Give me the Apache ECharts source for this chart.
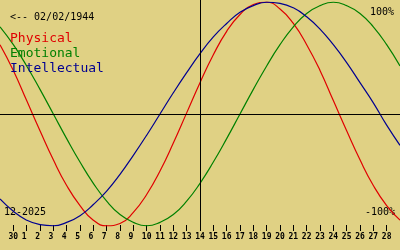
<!DOCTYPE html>
<html><head><meta charset="utf-8">
<script src="https://cdn.jsdelivr.net/npm/echarts@6/dist/echarts.min.js"></script>
<style>html,body{margin:0;padding:0;background:#E0D184;}#c{width:400px;height:250px;}</style>
</head><body><div id="c"></div>
<script>
// x index: -1 .. 29 ; tick labels for index 0..28
const dayLabels = ['30','1','2','3','4','5','6','7','8','9','10','11','12','13','14','15','16','17','18','19','20','21','22','23','24','25','26','27','28'];
const dayIndex = [-1,0,1,2,3,4,5,6,7,8,9,10,11,12,13,14,15,16,17,18,19,20,21,22,23,24,25,26,27,28,29];
const physical = [0.62,0.39,0.12,-0.15,-0.41,-0.64,-0.82,-0.95,-1.00,-0.98,-0.88,-0.72,-0.51,-0.26,0.01,0.28,0.53,0.74,0.89,0.98,1.00,0.94,0.81,0.62,0.39,0.12,-0.15,-0.41,-0.64,-0.82,-0.95];
const emotional = [0.78,0.62,0.43,0.22,0.00,-0.22,-0.43,-0.62,-0.78,-0.90,-0.97,-1.00,-0.97,-0.90,-0.78,-0.62,-0.43,-0.22,0.00,0.22,0.43,0.62,0.78,0.90,0.97,1.00,0.97,0.90,0.78,0.62,0.43];
const intellectual = [-0.76,-0.87,-0.95,-0.99,-1.00,-0.97,-0.91,-0.81,-0.69,-0.54,-0.37,-0.19,0.00,0.19,0.37,0.54,0.69,0.81,0.91,0.97,1.00,0.99,0.95,0.87,0.76,0.62,0.46,0.28,0.10,-0.10,-0.28];
const todayIndex = 14;
const seriesNames = ['Physical','Emotional','Intellectual'];
const seriesColors = ['#E00000','#008000','#000090'];
const birthText = '<-- 02/02/1944';
const monthText = '12-2025';
const topLabel = '100%';
const bottomLabel = '-100%';

const mono = '"DejaVu Sans Mono", "Liberation Mono", monospace';
const tickIdx = dayLabels.map((_, i) => i);
const values = [physical, emotional, intellectual];

const chart = echarts.init(document.getElementById('c'), null, {renderer: 'canvas'});
chart.setOption({
  animation: false,
  backgroundColor: '#E0D184',
  title: {
    text: birthText, left: 10, top: 12, padding: 0,
    textStyle: {fontFamily: mono, fontSize: 10, fontWeight: 'normal', color: '#000'}
  },
  legend: {
    orient: 'vertical', left: 5, top: 31, padding: 0, itemGap: 0,
    itemWidth: 0, itemHeight: 0, icon: 'rect', selectedMode: false,
    textStyle: {fontFamily: mono, fontSize: 13, lineHeight: 15},
    data: seriesNames.map((n, i) => ({name: n, textStyle: {color: seriesColors[i]}}))
  },
  grid: {left: 0, right: 0, top: 0, height: 228, containLabel: false},
  xAxis: {
    type: 'value', min: -1, max: 29, offset: -3,
    axisLine: {show: false, onZero: false},
    splitLine: {show: false},
    axisTick: {show: true, length: 6, customValues: tickIdx, lineStyle: {color: '#000', width: 1}},
    axisLabel: {
      customValues: tickIdx, margin: 8, color: '#000',
      fontFamily: mono, fontSize: 8, fontWeight: 'bold',
      formatter: v => { const s = dayLabels[v]; return s.length === 1 ? s + ' ' : s; }
    }
  },
  yAxis: {type: 'value', min: -1.02, max: 1.02, show: false},
  graphic: [
    {type: 'text', x: 4, y: 212, style: {text: monthText, font: '10px ' + mono, fill: '#000', textAlign: 'left', textVerticalAlign: 'middle'}},
    {type: 'text', x: 394, y: 12, style: {text: topLabel, font: '10px ' + mono, fill: '#000', textAlign: 'right', textVerticalAlign: 'middle'}},
    {type: 'text', x: 395, y: 212, style: {text: bottomLabel, font: '10px ' + mono, fill: '#000', textAlign: 'right', textVerticalAlign: 'middle'}}
  ],
  series: seriesNames.map((n, k) => ({
    name: n, type: 'line', smooth: true, showSymbol: false, symbol: 'none',
    lineStyle: {color: seriesColors[k], width: 1.2},
    itemStyle: {color: seriesColors[k]},
    data: dayIndex.map((x, i) => [x, values[k][i]]),
    markLine: k === 0 ? {
      silent: true, symbol: 'none', animation: false,
      label: {show: false},
      lineStyle: {color: '#000', width: 1, type: 'solid'},
      data: [{xAxis: todayIndex}, {yAxis: 0}]
    } : undefined
  }))
});
</script></body></html>
